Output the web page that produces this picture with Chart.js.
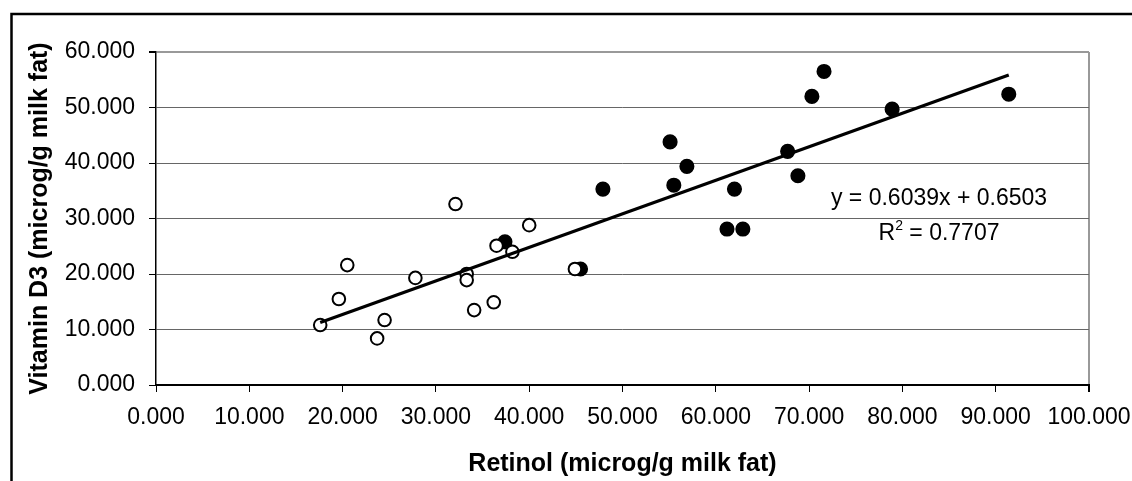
<!DOCTYPE html>
<html>
<head>
<meta charset="utf-8">
<script src="https://cdn.jsdelivr.net/npm/chart.js@4.4.1/dist/chart.umd.min.js"></script>
<style>
  html, body { margin: 0; padding: 0; background: #fff; }
  canvas { display: block; }
</style>
</head>
<body>
<canvas id="chart" width="1132" height="481"></canvas>
<script>
// ===============================
// DATA
// ===============================
const openX = [17.6, 19.6, 20.5, 23.7, 24.5, 27.8, 32.1, 33.3, 33.3, 34.1, 36.2, 36.5, 38.2, 40.0, 44.9];
const openY = [10.8, 15.5, 21.6, 8.4, 11.7, 19.3, 32.6, 20.0, 18.9, 13.5, 14.9, 25.1, 24.0, 28.8, 20.9];

const filledX = [37.4, 45.5, 47.9, 55.1, 55.5, 56.9, 61.2, 62.9, 62.0, 67.7, 68.8, 70.3, 71.6, 78.9, 91.4];
const filledY = [25.8, 20.9, 35.3, 43.8, 36.0, 39.4, 28.1, 28.1, 35.3, 42.1, 37.7, 52.0, 56.5, 49.7, 52.4];

const xTicks = [0, 10, 20, 30, 40, 50, 60, 70, 80, 90, 100];
const yTicks = [0, 10, 20, 30, 40, 50, 60];

// trendline as printed on the chart
const slope = 0.6039;
const intercept = 0.6503;
const rSquared = "0.7707";
const trendX = [17.6, 91.4];

const FONT = "'Liberation Sans', Arial, sans-serif";

function toPoints(xs, ys) {
  return xs.map((x, i) => ({ x: x, y: ys[i] }));
}

// ===============================
// PLUGINS
// ===============================
const framePlugin = {
  id: "frame",
  beforeDraw(chart) {
    const ctx = chart.ctx;
    ctx.save();
    ctx.fillStyle = "#fff";
    ctx.fillRect(0, 0, chart.width, chart.height);
    ctx.strokeStyle = "#000";
    ctx.lineWidth = 2.5;
    ctx.beginPath();
    ctx.moveTo(11.5, chart.height);
    ctx.lineTo(11.5, 14);
    ctx.lineTo(chart.width, 14);
    ctx.stroke();
    ctx.restore();
  }
};

const equationPlugin = {
  id: "equation",
  afterDraw(chart) {
    const ctx = chart.ctx;
    const cx = 939;
    ctx.save();
    ctx.fillStyle = "#000";
    ctx.textBaseline = "middle";
    ctx.font = "23px " + FONT;
    ctx.textAlign = "center";
    ctx.fillText("y = " + slope + "x + " + intercept, cx, 199);

    // R² line, centred under the first
    const rest = " = " + rSquared;
    ctx.textAlign = "left";
    const wR = ctx.measureText("R").width;
    ctx.font = "14px " + FONT;
    const w2 = ctx.measureText("2").width;
    ctx.font = "23px " + FONT;
    const wRest = ctx.measureText(rest).width;
    let x = cx - (wR + w2 + wRest) / 2;
    ctx.fillText("R", x, 234);
    x += wR;
    ctx.font = "14px " + FONT;
    ctx.fillText("2", x, 226);
    x += w2;
    ctx.font = "23px " + FONT;
    ctx.fillText(rest, x, 234);
    ctx.restore();
  }
};

// ===============================
// CHART
// ===============================
new Chart(document.getElementById("chart"), {
  type: "scatter",
  data: {
    datasets: [
      {
        type: "line",
        label: "Trend",
        data: trendX.map(x => ({ x: x, y: slope * x + intercept })),
        borderColor: "#000",
        borderWidth: 3.2,
        pointRadius: 0,
        fill: false,
        order: 0
      },
      {
        label: "Open",
        data: toPoints(openX, openY),
        pointStyle: "circle",
        pointRadius: 6.3,
        pointBorderWidth: 2,
        pointBorderColor: "#000",
        pointBackgroundColor: "#fff",
        order: 1
      },
      {
        label: "Filled",
        data: toPoints(filledX, filledY),
        pointStyle: "circle",
        pointRadius: 6.8,
        pointBorderWidth: 1.5,
        pointBorderColor: "#000",
        pointBackgroundColor: "#000",
        order: 1
      }
    ]
  },
  options: {
    responsive: false,
    animation: false,
    layout: { padding: { left: 0, right: 43, top: 52, bottom: 0 } },
    plugins: {
      legend: { display: false },
      tooltip: { enabled: false }
    },
    scales: {
      x: {
        type: "linear",
        min: 0,
        max: 100,
        afterBuildTicks(scale) {
          scale.ticks = xTicks.map(v => ({ value: v }));
        },
        afterFit(scale) {
          scale.height = 96;
          scale.paddingLeft = 0;
          scale.paddingRight = 0;
        },
        ticks: {
          autoSkip: false,
          maxRotation: 0,
          padding: 12,
          color: "#000",
          font: { family: FONT, size: 23 },
          callback: v => Number(v).toFixed(3)
        },
        grid: {
          color: c => (c.tick && c.tick.value === 100 ? "#999" : "rgba(0,0,0,0)"),
          lineWidth: c => (c.tick && c.tick.value === 100 ? 2 : 1),
          tickColor: "#000",
          tickLength: 7
        },
        border: { color: "#000", width: 2 },
        title: {
          display: true,
          text: "Retinol (microg/g milk fat)",
          color: "#000",
          font: { family: FONT, size: 25, weight: "bold" },
          padding: { top: 0, bottom: 2 }
        }
      },
      y: {
        type: "linear",
        min: 0,
        max: 60,
        afterBuildTicks(scale) {
          scale.ticks = yTicks.map(v => ({ value: v }));
        },
        afterFit(scale) {
          scale.width = 156;
          scale.paddingTop = 0;
          scale.paddingBottom = 0;
        },
        ticks: {
          padding: 14,
          color: "#000",
          font: { family: FONT, size: 23 },
          callback: v => Number(v).toFixed(3)
        },
        grid: {
          color: c => (c.tick && c.tick.value === 60 ? "#999" : "#666"),
          lineWidth: c => (c.tick && c.tick.value === 60 ? 2 : 1),
          tickColor: "#000",
          tickLength: 7
        },
        border: { color: "#000", width: 1.5 },
        title: {
          display: true,
          text: "Vitamin D3 (microg/g milk fat)",
          color: "#000",
          font: { family: FONT, size: 25, weight: "bold" },
          padding: { top: 25, bottom: 0 }
        }
      }
    }
  },
  plugins: [framePlugin, equationPlugin]
});
</script>
</body>
</html>
